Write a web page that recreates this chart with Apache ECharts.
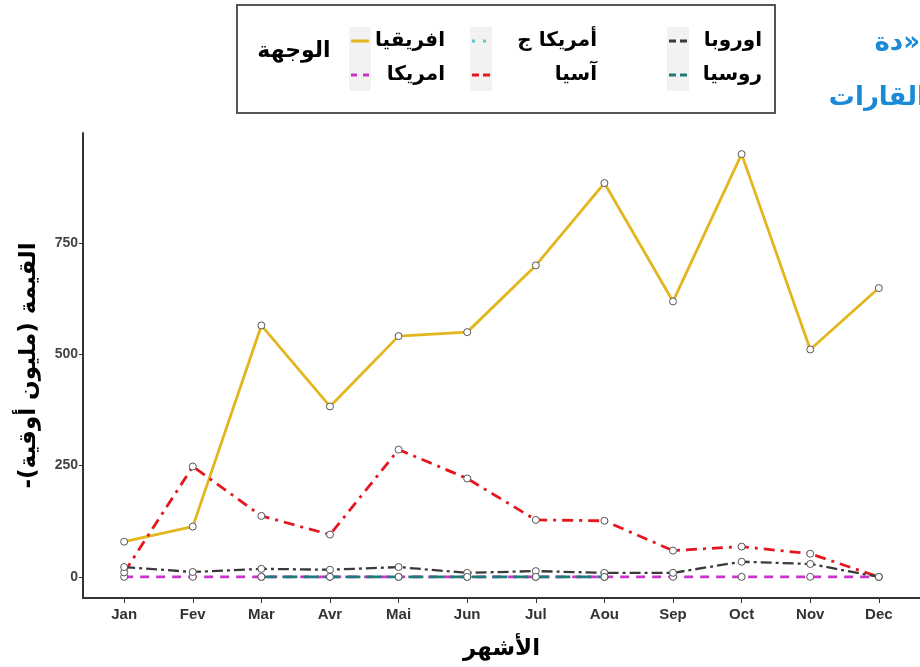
<!DOCTYPE html>
<html>
<head>
<meta charset="utf-8">
<script src="https://cdn.jsdelivr.net/npm/echarts@6/dist/echarts.min.js"></script>
<style>html,body{margin:0;padding:0;background:#fff}#c{width:920px;height:667px}</style>
</head>
<body>
<div id="c"></div>
<script>
const months = ['Jan','Fev','Mar','Avr','Mai','Jun','Jul','Aou','Sep','Oct','Nov','Dec'];
const yTicks = [0, 250, 500, 750];
const seriesNames = ['افريقيا', 'امريكا', 'أمريكا ج', 'آسيا', 'اوروبا', 'روسيا'];
const africa  = [79, 113, 565, 383, 541, 550, 700, 885, 619, 950, 511, 649];
const america = [0, 0, 0, 0, 0, 0, 0, 0, 0, 0, 0, 0];
const americaJ = [null, null, null, null, null, null, null, null, null, null, null, null];
const asia    = [10, 248, 137, 95, 286, 221, 128, 126, 59, 68, 52, 0];
const europe  = [22, 11, 18, 16, 22, 9, 13, 9, 9, 34, 29, 0];
const russia  = [null, null, 0, 0, 0, 0, 0, 0, null, null, null, null];
const legendTitle = 'الوجهة';
const xName = 'الأشهر';
const yName = '-القيمة (مليون أوقية)\u200F';
const titleLine1 = 'دة»';
const titleLine2 = 'القارات';

const values = [africa, america, americaJ, asia, europe, russia];
const colors = ['#e3b51e', '#c935c9', '#5ec8d2', '#e5171c', '#3a3a3a', '#1d7b7a'];
const dashes = ['solid', [9, 7], [2, 6], [11, 6, 3, 6], [11, 4, 3, 4], [15, 6]];
const widths = [2.8, 2.8, 2.8, 2.8, 2.3, 2.8];

const series = values.map((vals, s) => ({
  name: seriesNames[s],
  type: 'line',
  data: vals.map((v, i) => [i, v]),
  connectNulls: true,
  symbol: 'circle',
  symbolSize: 7,
  itemStyle: { color: '#fff', borderColor: '#555', borderWidth: 1 },
  lineStyle: { color: colors[s], width: widths[s], type: dashes[s] },
  z: 2 + s,
  animation: false
}));

const AR = '"DejaVu Sans", sans-serif';
const graphic = [];
graphic.push({ type: 'rect', shape: { x: 237, y: 5, width: 538, height: 108 },
  style: { fill: '#fff', stroke: '#555', lineWidth: 2 }, z: 10 });
graphic.push({ type: 'text', style: { text: legendTitle, x: 294, y: 51, align: 'center', verticalAlign: 'middle',
  font: 'bold 22px ' + AR, fill: '#000' }, z: 11 });
const keyX = [360, 481, 678];
const textRight = [445, 597, 762];
const rowY = [41, 75];
for (let c = 0; c < 3; c++) {
  graphic.push({ type: 'rect', shape: { x: keyX[c] - 11, y: 27, width: 22, height: 64 },
    style: { fill: '#f2f2f2' }, z: 11 });
  for (let r = 0; r < 2; r++) {
    const s = c * 2 + r;
    const d = dashes[s];
    graphic.push({ type: 'line', shape: { x1: keyX[c] - 9, y1: rowY[r], x2: keyX[c] + 9, y2: rowY[r] },
      style: { stroke: colors[s], lineWidth: 3, lineDash: d === 'solid' ? null : (s === 1 ? [6, 6] : s === 2 ? [3, 8] : [7, 4]) }, z: 12 });
    graphic.push({ type: 'text', style: { text: seriesNames[s], x: textRight[c], y: rowY[r], align: 'right', verticalAlign: 'middle',
      font: 'bold 20px ' + AR, fill: '#000' }, z: 12 });
  }
}
graphic.push({ type: 'text', style: { text: titleLine1, x: 920, y: 43, align: 'right', verticalAlign: 'middle',
  font: 'bold 26px ' + AR, fill: '#1a8ad8' }, z: 12 });
graphic.push({ type: 'text', style: { text: titleLine2, x: 926, y: 98, align: 'right', verticalAlign: 'middle',
  font: 'bold 26px ' + AR, fill: '#1a8ad8' }, z: 12 });

const chart = echarts.init(document.getElementById('c'), null, { renderer: 'canvas' });
chart.setOption({
  animation: false,
  backgroundColor: '#fff',
  grid: { left: 83, top: 133, width: 847, height: 465, containLabel: false },
  xAxis: {
    type: 'value', min: -0.6, max: 11.6,
    name: xName, nameLocation: 'middle', nameGap: 40,
    nameTextStyle: { fontFamily: 'DejaVu Sans', fontWeight: 'bold', fontSize: 23, color: '#000' },
    axisLine: { show: true, onZero: false, lineStyle: { color: '#333', width: 2 } },
    axisTick: { show: true, customValues: months.map((m, i) => i), length: 5, lineStyle: { color: '#333', width: 1 } },
    axisLabel: { customValues: months.map((m, i) => i), formatter: v => months[Math.round(v)],
      fontFamily: '"Liberation Sans Narrow", "Liberation Sans", sans-serif', fontWeight: 'bold', fontSize: 15, color: '#333', margin: 9 },
    splitLine: { show: false }
  },
  yAxis: {
    type: 'value', min: -47.5, max: 997.5,
    name: yName, nameLocation: 'middle', nameGap: 42,
    nameTextStyle: { fontFamily: 'DejaVu Sans', fontWeight: 'bold', fontSize: 23, color: '#000' },
    axisLine: { show: true, onZero: false, lineStyle: { color: '#333', width: 2 } },
    axisTick: { show: true, customValues: yTicks, length: 4, lineStyle: { color: '#333', width: 1 } },
    axisLabel: { customValues: yTicks,
      fontFamily: '"Liberation Sans Narrow", "Liberation Sans", sans-serif', fontWeight: 'bold', fontSize: 14, color: '#444', margin: 5 },
    splitLine: { show: false }
  },
  graphic: graphic,
  series: series
});
</script>
</body>
</html>
